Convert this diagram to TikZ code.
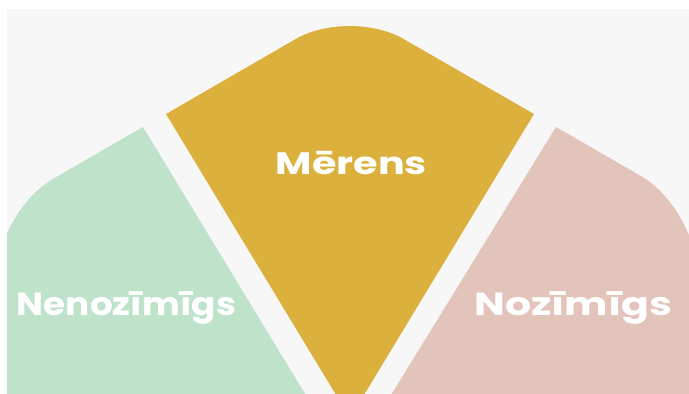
\documentclass[tikz,border=0pt]{standalone}
\usepackage{fontspec}
\setmainfont{Poppins}
\newfontfamily\etiketesfont{Poppins}[FakeStretch=1.28]
\usepackage{tikz}
\definecolor{zelts}{HTML}{DBB03C}
\definecolor{zals}{HTML}{BFE2CB}
\definecolor{rozs}{HTML}{E3C4BA}
\definecolor{fons}{HTML}{F7F7F7}

\begin{document}
\begin{tikzpicture}
	[x=1pt,y=-1pt,
	sektors/.style={draw=none},
	etikete/.style={text=white,font=\etiketesfont\bfseries\fontsize{32}{32}\selectfont,
		inner sep=0pt,anchor=base}]
	\useasboundingbox (0,0) rectangle (689,394);
	%------------------- fons -------------------
	\fill[white] (0,0) rectangle (689,394);
	\fill[fons] (7,9) rectangle (689,394);
	\begin{scope}
		\clip (7,9) rectangle (689,394);
		%---------------- vidus (zelts) ------------
		\fill[sektors,zelts] (166,114) [rounded corners=62pt]-- (349.5,7.9) [sharp corners]-- (534,114) -- (350,418) -- cycle;
		%---------------- kreisais (zals) ----------
		\fill[sektors,zals] (143,127) [rounded corners=65pt]-- (-3,211.2) [sharp corners]-- (-3,430) -- (327,430) -- cycle;
		%---------------- labais (rozs) ------------
		\fill[sektors,rozs] (556,127) [rounded corners=65pt]-- (697,208.4) [sharp corners]-- (697,430) -- (369.5,430) -- cycle;
	\end{scope}
	%------------------- teksti -------------------
	\node[etikete,font=\etiketesfont\bfseries\fontsize{31}{31}\selectfont] (merens) at (351.5,174.5) {Mērens};
	\node[etikete] (nenozimigs) at (126.5,315) {\scalebox{0.875}[1]{Nenozīmīgs}};
	\node[etikete] (nozimigs) at (573.3,315) {Nozīmīgs};
\end{tikzpicture}
\end{document}
